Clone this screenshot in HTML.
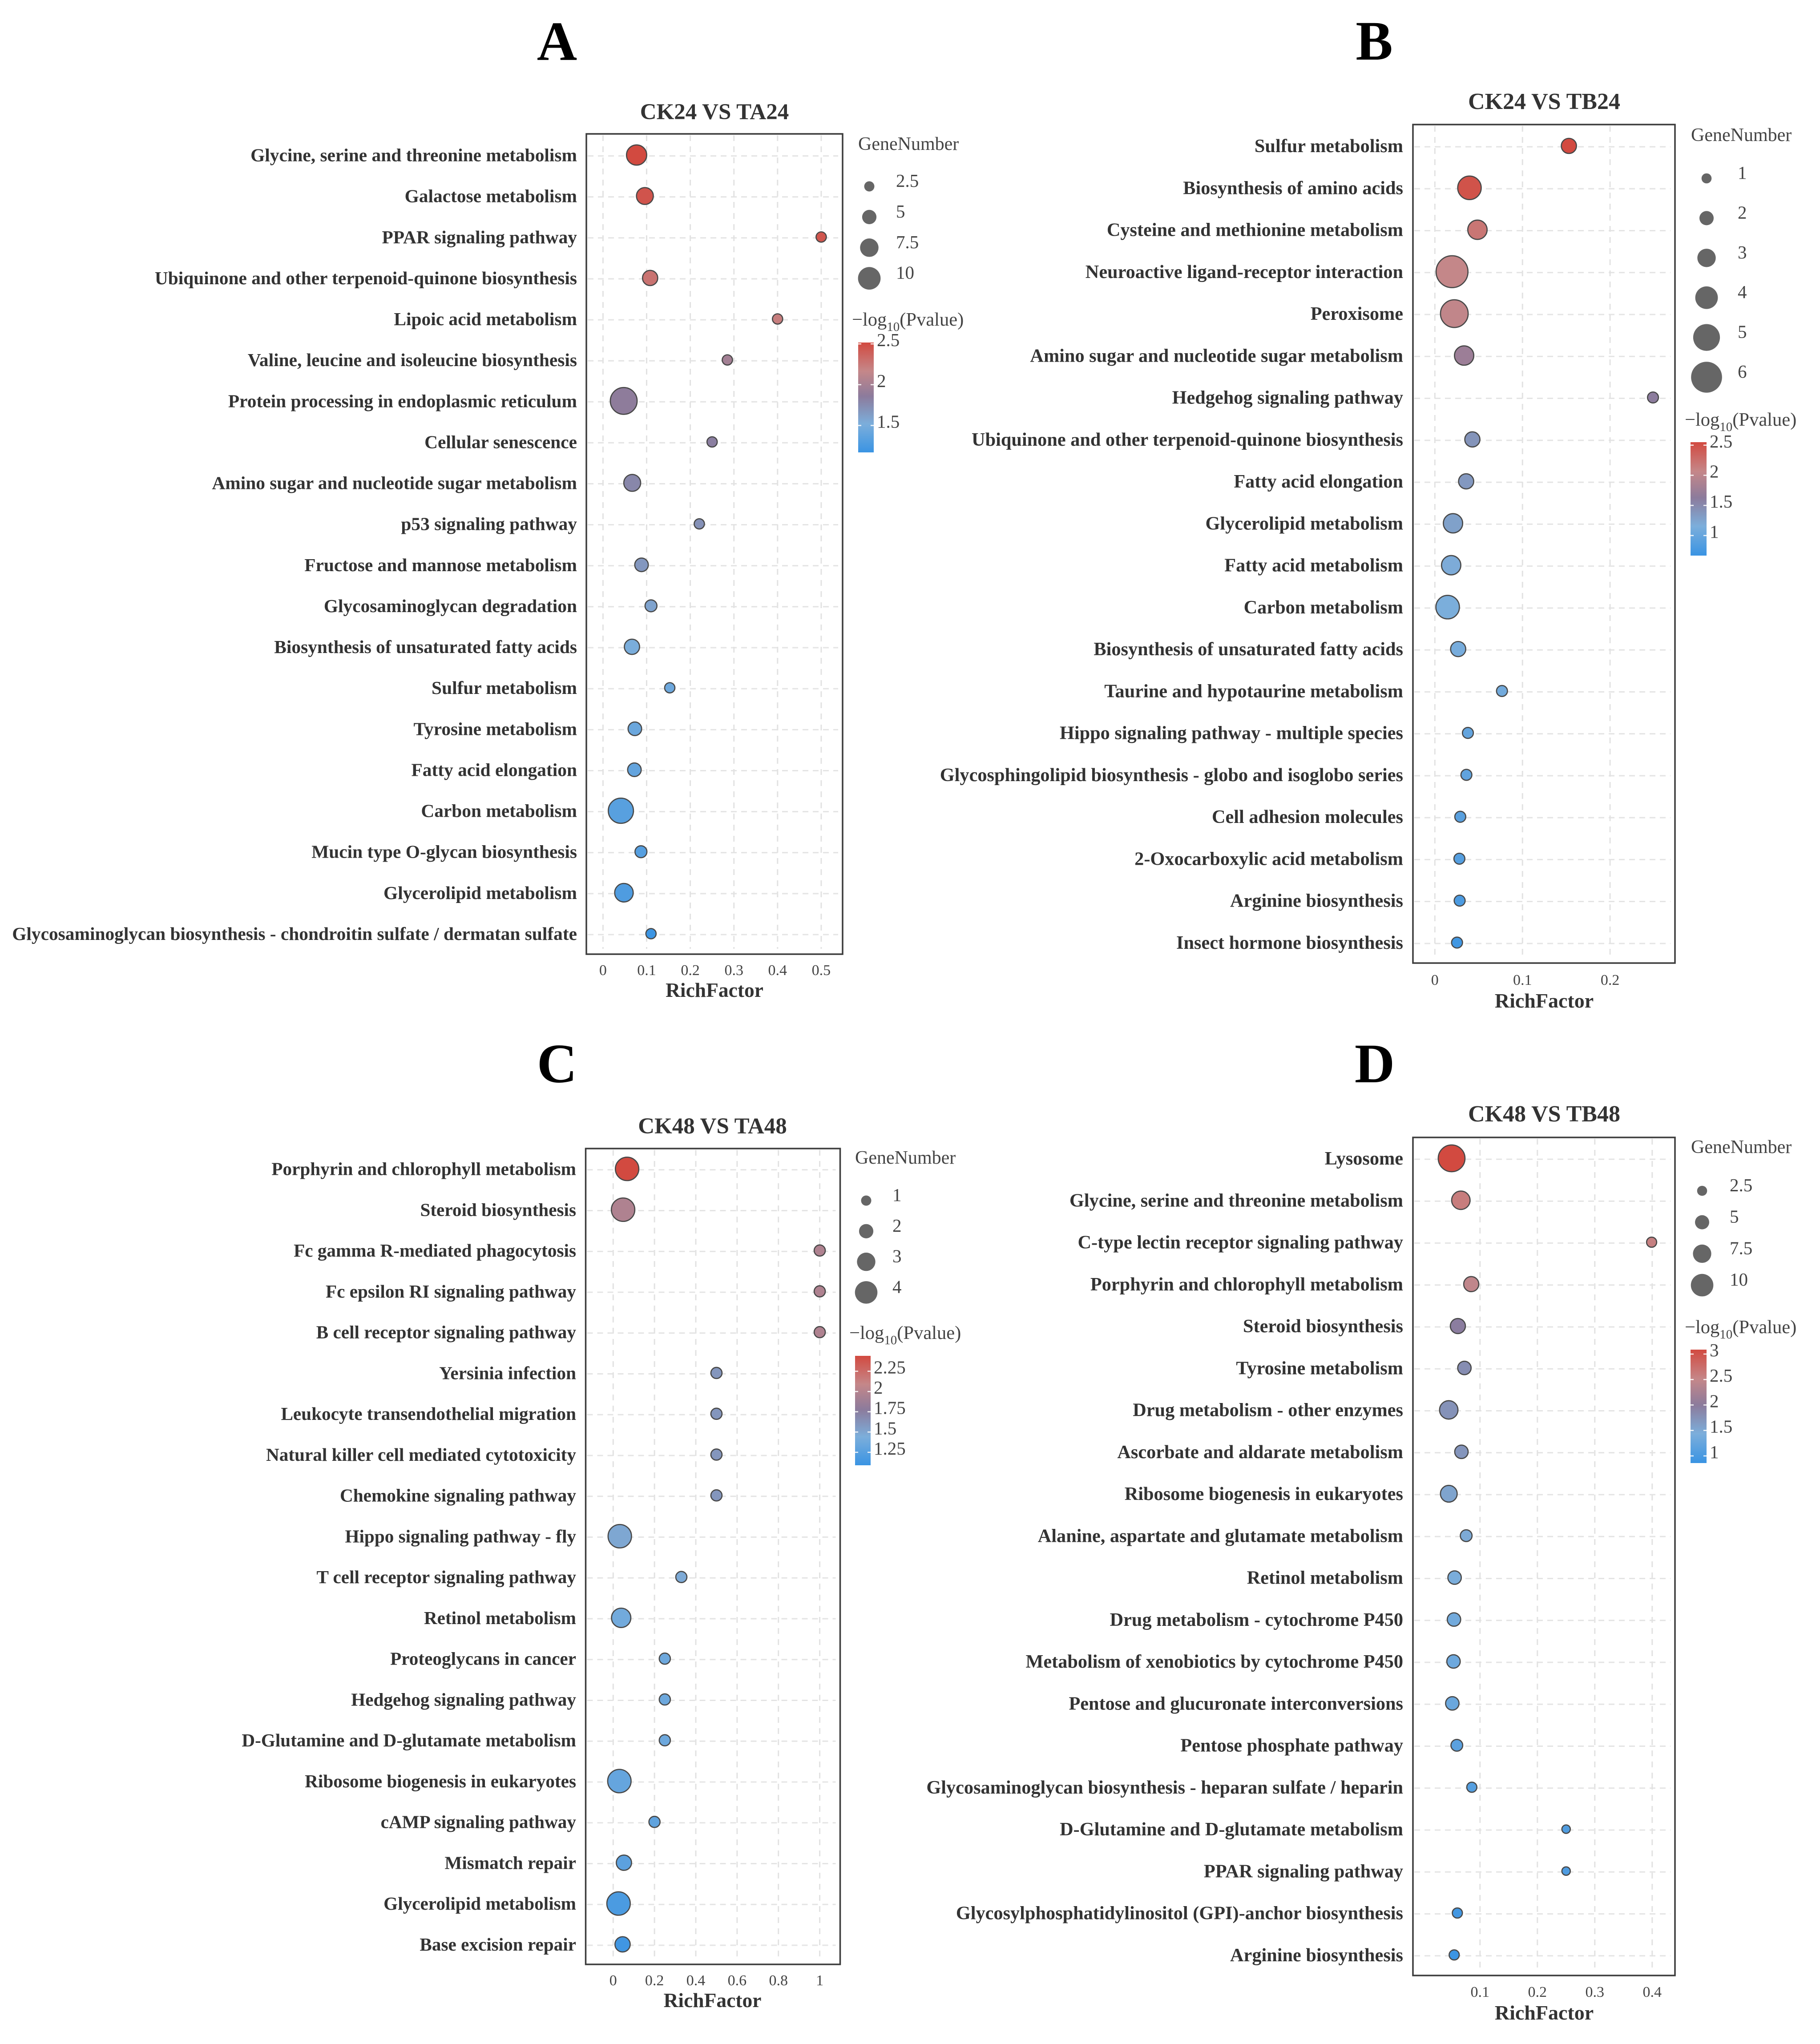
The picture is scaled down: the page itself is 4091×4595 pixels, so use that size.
<!DOCTYPE html>
<html lang="en">
<head>
<meta charset="utf-8">
<title>KEGG enrichment bubble charts</title>
<style>
html,body{margin:0;padding:0;background:#fff}
svg{display:block}
text{font-family:"Liberation Serif","Times New Roman",serif}
</style>
</head>
<body>
<svg id="figure" xmlns="http://www.w3.org/2000/svg" width="4091" height="4595" viewBox="0 0 4091 4595">
<rect x="0" y="0" width="4091" height="4595" fill="#ffffff"/>
</svg>
<script>
/* ---------- Panel A data ---------- */
const termsA = ["Glycine, serine and threonine metabolism","Galactose metabolism","PPAR signaling pathway","Ubiquinone and other terpenoid-quinone biosynthesis","Lipoic acid metabolism","Valine, leucine and isoleucine biosynthesis","Protein processing in endoplasmic reticulum","Cellular senescence","Amino sugar and nucleotide sugar metabolism","p53 signaling pathway","Fructose and mannose metabolism","Glycosaminoglycan degradation","Biosynthesis of unsaturated fatty acids","Sulfur metabolism","Tyrosine metabolism","Fatty acid elongation","Carbon metabolism","Mucin type O-glycan biosynthesis","Glycerolipid metabolism","Glycosaminoglycan biosynthesis - chondroitin sulfate / dermatan sulfate"];
const richA = [0.077,0.096,0.5,0.108,0.4,0.285,0.0475,0.25,0.067,0.2207,0.0883,0.11,0.0664,0.153,0.073,0.072,0.041,0.087,0.048,0.11];
const genesA = [8,6,2,5,2,2,12,2,6,2,4,3,5,2,4,4,11,3,7,2];
const logpA = [2.517,2.46,2.45,2.28,2.22,1.98,1.87,1.83,1.78,1.71,1.67,1.59,1.51,1.44,1.43,1.39,1.33,1.32,1.28,1.18];
const xTicksA = [0,0.1,0.2,0.3,0.4,0.5];
const sizeLegendA = [2.5,5,7.5,10];
const colorTicksA = [2.5,2,1.5];

/* ---------- Panel B data ---------- */
const termsB = ["Sulfur metabolism","Biosynthesis of amino acids","Cysteine and methionine metabolism","Neuroactive ligand-receptor interaction","Peroxisome","Amino sugar and nucleotide sugar metabolism","Hedgehog signaling pathway","Ubiquinone and other terpenoid-quinone biosynthesis","Fatty acid elongation","Glycerolipid metabolism","Fatty acid metabolism","Carbon metabolism","Biosynthesis of unsaturated fatty acids","Taurine and hypotaurine metabolism","Hippo signaling pathway - multiple species","Glycosphingolipid biosynthesis - globo and isoglobo series","Cell adhesion molecules","2-Oxocarboxylic acid metabolism","Arginine biosynthesis","Insect hormone biosynthesis"];
const richB = [0.153,0.0395,0.0486,0.0196,0.0222,0.0334,0.249,0.0428,0.0357,0.0207,0.0186,0.0146,0.0266,0.0766,0.0377,0.036,0.029,0.028,0.0283,0.0253];
const genesB = [2,4,3,6,5,3,1,2,2,3,3,4,2,1,1,1,1,1,1,1];
const logpB = [2.55,2.48,2.2,2.05,2.03,1.75,1.62,1.4,1.36,1.28,1.18,1.15,1.12,1.08,0.97,0.95,0.9,0.87,0.8,0.72];
const xTicksB = [0,0.1,0.2];
const sizeLegendB = [1,2,3,4,5,6];
const colorTicksB = [2.5,2,1.5,1];

/* ---------- Panel C data ---------- */
const termsC = ["Porphyrin and chlorophyll metabolism","Steroid biosynthesis","Fc gamma R-mediated phagocytosis","Fc epsilon RI signaling pathway","B cell receptor signaling pathway","Yersinia infection","Leukocyte transendothelial migration","Natural killer cell mediated cytotoxicity","Chemokine signaling pathway","Hippo signaling pathway - fly","T cell receptor signaling pathway","Retinol metabolism","Proteoglycans in cancer","Hedgehog signaling pathway","D-Glutamine and D-glutamate metabolism","Ribosome biogenesis in eukaryotes","cAMP signaling pathway","Mismatch repair","Glycerolipid metabolism","Base excision repair"];
const richC = [0.0674,0.048,1,1,1,0.5,0.5,0.5,0.5,0.032,0.33,0.0387,0.25,0.25,0.25,0.03,0.2,0.052,0.026,0.0455];
const genesC = [4,4,1,1,1,1,1,1,1,4,1,3,1,1,1,4,1,2,4,2];
const logpC = [2.44,1.97,1.97,1.97,1.97,1.6,1.6,1.6,1.6,1.49,1.47,1.39,1.36,1.36,1.36,1.32,1.29,1.27,1.18,1.12];
const xTicksC = [0,0.2,0.4,0.6,0.8,1];
const sizeLegendC = [1,2,3,4];
const colorTicksC = [2.25,2,1.75,1.5,1.25];

/* ---------- Panel D data ---------- */
const termsD = ["Lysosome","Glycine, serine and threonine metabolism","C-type lectin receptor signaling pathway","Porphyrin and chlorophyll metabolism","Steroid biosynthesis","Tyrosine metabolism","Drug metabolism - other enzymes","Ascorbate and aldarate metabolism","Ribosome biogenesis in eukaryotes","Alanine, aspartate and glutamate metabolism","Retinol metabolism","Drug metabolism - cytochrome P450","Metabolism of xenobiotics by cytochrome P450","Pentose and glucuronate interconversions","Pentose phosphate pathway","Glycosaminoglycan biosynthesis - heparan sulfate / heparin","D-Glutamine and D-glutamate metabolism","PPAR signaling pathway","Glycosylphosphatidylinositol (GPI)-anchor biosynthesis","Arginine biosynthesis"];
const richD = [0.0505,0.0666,0.399,0.0847,0.0614,0.0728,0.0455,0.0676,0.0456,0.0759,0.0557,0.0546,0.0538,0.0517,0.0596,0.0857,0.25,0.25,0.0605,0.055];
const genesD = [12,7,2,5,5,4,7,4,6,3,4,4,4,4,3,2,1,1,2,2];
const logpD = [3.087,2.6,2.57,2.46,1.97,1.8,1.75,1.71,1.55,1.48,1.42,1.35,1.31,1.28,1.15,1.1,1.06,1.04,0.93,0.88];
const xTicksD = [0.1,0.2,0.3,0.4];
const sizeLegendD = [2.5,5,7.5,10];
const colorTicksD = [3,2.5,2,1.5,1];

/* ---------- Drawing ---------- */
const NS = "http://www.w3.org/2000/svg";
const svg = document.getElementById("figure");

const defs = document.createElementNS(NS, "defs");
svg.appendChild(defs);

const RAMP_T = [0, 0.26, 0.51, 0.74, 1];
const RAMP_C = [[58,148,227],[124,174,219],[140,123,156],[197,135,137],[210,74,64]];

function rampColor(t) {
  const c = Math.max(0, Math.min(1, t));
  for (let i = 1; i < RAMP_T.length; i++) {
    if (c <= RAMP_T[i]) {
      const f = (c - RAMP_T[i-1]) / (RAMP_T[i] - RAMP_T[i-1]);
      const a = RAMP_C[i-1], b = RAMP_C[i];
      return "rgb(" + [0,1,2].map(k => Math.round(a[k] + (b[k]-a[k])*f)).join(",") + ")";
    }
  }
  return "rgb(210,74,64)";
}

function node(tag, parent, attrs, text) {
  const el = document.createElementNS(NS, tag);
  for (const k in attrs) el.setAttribute(k, attrs[k]);
  if (text !== undefined) el.textContent = text;
  parent.appendChild(el);
  return el;
}

function slug(s) {
  return s.toLowerCase().replace(/[^a-z0-9]+/g, "-").replace(/^-|-$/g, "");
}

function drawPanel(p, terms, rich, genes, logp, xTicks, sizeLegend, colorTicks) {
  const g = node("g", svg, {});
  
  

  const xScale = v => p.x0 + v * p.xUnit;
  const yScale = i => p.y0 + i * p.rowStep;
  const rScale = n => p.rA + p.rB * n;
  const tScale = v => (v - p.cMin) / (p.cMax - p.cMin);
  const barY = v => p.barB - (v - p.cMin) / (p.cMax - p.cMin) * (p.barB - p.barT);

  const letter = node("text", g, {x:p.letterX, y:p.letterY, "text-anchor":"middle", "font-size":125, "font-weight":"bold", fill:"#000"}, p.id);
  
  

  const title = node("text", g, {x:p.cx, y:p.titleY, "text-anchor":"middle", "font-size":p.titleSize, "font-weight":"bold", fill:"#333"}, p.title);
  
  

  /* grid */
  terms.forEach((t, i) => {
    const line = node("line", g, {x1:p.l+3, x2:p.r-10, y1:yScale(i)+1, y2:yScale(i)+1, stroke:"#e4e4e4", "stroke-width":3, "stroke-dasharray":"13 10"});
    
    
  });
  xTicks.forEach(v => {
    const line = node("line", g, {x1:xScale(v), x2:xScale(v), y1:p.t+3, y2:p.b-12, stroke:"#e2e2e2", "stroke-width":3, "stroke-dasharray":"13 12"});
    
    
  });

  /* frame */
  const frame = node("rect", g, {x:p.l, y:p.t, width:p.r-p.l, height:p.b-p.t, fill:"none", stroke:"#3c3c3c", "stroke-width":3.5});
  
  

  /* category labels */
  terms.forEach((t, i) => {
    const label = node("text", g, {x:p.labelX, y:yScale(i)+13, "text-anchor":"end", "font-size":p.labelSize, "font-weight":"bold", fill:"#333"}, t);
    
    
  });

  /* points */
  terms.forEach((t, i) => {
    const c = node("circle", g, {cx:xScale(rich[i]), cy:yScale(i)-1, r:rScale(genes[i]), fill:rampColor(tScale(logp[i])), stroke:"#484848", "stroke-width":2.6});
    
    
  });

  /* x axis */
  xTicks.forEach(v => {
    const lab = node("text", g, {x:xScale(v), y:p.b+p.tickOffset, "text-anchor":"middle", "font-size":34, fill:"#444"}, String(v));
    
    
  });
  const xTitle = node("text", g, {x:p.cx, y:p.xTitleY, "text-anchor":"middle", "font-size":p.xTitleSize, "font-weight":"bold", fill:"#333"}, "RichFactor");
  
  

  /* size legend */
  const lg1 = node("text", g, {x:p.legX, y:p.legTitleY, "font-size":42, fill:"#444"}, "GeneNumber");
  
  
  sizeLegend.forEach((n, i) => {
    const cy = p.legY0 + i * p.legStep;
    const dot = node("circle", g, {cx:p.legCx, cy:cy, r:rScale(n)-1, fill:"#666"});
    
    
    const lab = node("text", g, {x:p.legLabelX, y:cy+1, "font-size":41, fill:"#444"}, String(n));
    
    
  });

  /* colour legend */
  const lg2 = node("text", g, {x:p.cTitleX, y:p.cTitleY, "font-size":42.5, fill:"#444"});
  
  
  node("tspan", lg2, {}, "\u2212log");
  node("tspan", lg2, {"font-size":29, dy:12}, "10");
  node("tspan", lg2, {dy:-12}, "(Pvalue)");

  const grad = node("linearGradient", defs, {id:"ramp"+p.id, x1:0, y1:1, x2:0, y2:0});
  RAMP_T.forEach((t) => {
    node("stop", grad, {offset:t, "stop-color":rampColor(t)});
  });
  const bar = node("rect", g, {x:p.barL, y:p.barT, width:p.barW, height:p.barB-p.barT, fill:"url(#ramp"+p.id+")"});
  
  
  colorTicks.forEach(v => {
    const y = barY(v);
    const t1 = node("line", g, {x1:p.barL, x2:p.barL+7, y1:y, y2:y, stroke:"#fff", "stroke-width":2.5, opacity:0.9});
    
    
    const t2 = node("line", g, {x1:p.barL+p.barW-7, x2:p.barL+p.barW, y1:y, y2:y, stroke:"#fff", "stroke-width":2.5, opacity:0.9});
    
    
    const lab = node("text", g, {x:p.barL+p.barW+7, y:y+5, "font-size":41, fill:"#444"}, String(v));
    
    
  });
}

drawPanel({id:"A", title:"CK24 VS TA24", letterX:1252, letterY:135, cx:1606, titleY:268, titleSize:51,
  l:1318, r:1894, t:301, b:2145, x0:1355.4, xUnit:981, y0:349.5, rowStep:92.13, labelX:1297, labelSize:41.4,
  tickOffset:47, xTitleY:2241, xTitleSize:45.5, rA:7.8, rB:1.86,
  legX:1929, legTitleY:337, legCx:1954, legLabelX:2014, legY0:419, legStep:68.9,
  cTitleX:1915, cTitleY:732, barL:1929, barW:35, barT:770, barB:1017, cMin:1.17, cMax:2.517},
  termsA, richA, genesA, logpA, xTicksA, sizeLegendA, colorTicksA);

drawPanel({id:"B", title:"CK24 VS TB24", letterX:3089, letterY:134, cx:3471, titleY:245, titleSize:52,
  l:3176, r:3765, t:280, b:2165, x0:3225.3, xUnit:1969, y0:329, rowStep:94.26, labelX:3154, labelSize:42.3,
  tickOffset:49, xTitleY:2265, xTitleSize:46, rA:7.6, rB:4.7,
  legX:3801, legTitleY:317, legCx:3836, legLabelX:3906, legY0:401, legStep:89.4,
  cTitleX:3787, cTitleY:957, barL:3800, barW:36, barT:994, barB:1249, cMin:0.667, cMax:2.55},
  termsB, richB, genesB, logpB, xTicksB, sizeLegendB, colorTicksB);

drawPanel({id:"C", title:"CK48 VS TA48", letterX:1252, letterY:2433, cx:1601.5, titleY:2548, titleSize:51,
  l:1316.5, r:1888.5, t:2582, b:4416, x0:1378.3, xUnit:464.3, y0:2628.7, rowStep:91.75, labelX:1295, labelSize:41.2,
  tickOffset:47, xTitleY:4512, xTitleSize:45.5, rA:7.9, rB:4.6,
  legX:1922, legTitleY:2616, legCx:1947, legLabelX:2006, legY0:2699, legStep:68.8,
  cTitleX:1909, cTitleY:3010, barL:1922, barW:35, barT:3048, barB:3294, cMin:1.09, cMax:2.44},
  termsC, richC, genesC, logpC, xTicksC, sizeLegendC, colorTicksC);

drawPanel({id:"D", title:"CK48 VS TB48", letterX:3090, letterY:2433, cx:3471, titleY:2521, titleSize:52,
  l:3176, r:3765, t:2557, b:4441, x0:3197.8, xUnit:1290, y0:2605, rowStep:94.25, labelX:3154, labelSize:42.3,
  tickOffset:48, xTitleY:4540, xTitleSize:46, rA:7.6, rB:1.87,
  legX:3801, legTitleY:2592, legCx:3826, legLabelX:3888, legY0:2677, legStep:70.7,
  cTitleX:3787, cTitleY:2997, barL:3800, barW:36, barT:3034, barB:3289, cMin:0.86, cMax:3.087},
  termsD, richD, genesD, logpD, xTicksD, sizeLegendD, colorTicksD);
</script>
</body>
</html>
